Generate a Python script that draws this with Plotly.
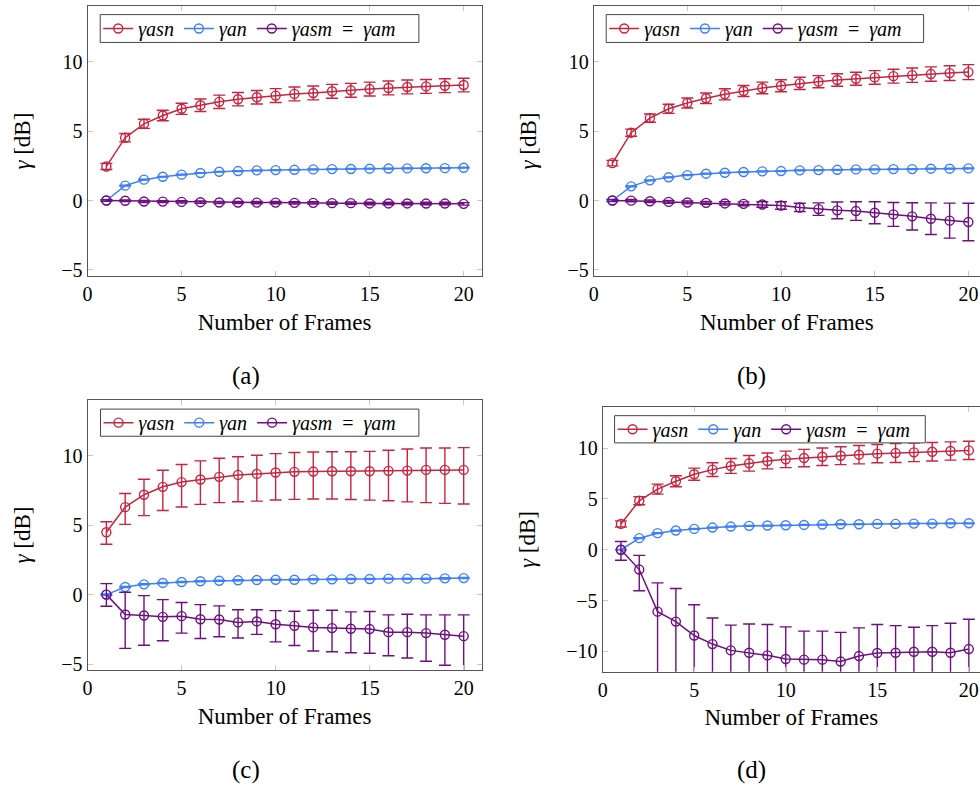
import plotly.graph_objects as go

frames = list(range(1, 21))

# Panel (a)
a_asn = [2.45, 4.52, 5.52, 6.12, 6.60, 6.86, 7.10, 7.29, 7.43, 7.55, 7.67, 7.74, 7.86, 7.93, 8.02, 8.10, 8.17, 8.21, 8.26, 8.31]
a_asn_err = [0.22, 0.30, 0.33, 0.38, 0.40, 0.45, 0.48, 0.48, 0.49, 0.50, 0.50, 0.50, 0.50, 0.50, 0.50, 0.50, 0.50, 0.50, 0.50, 0.49]
a_an = [0.0, 1.07, 1.50, 1.71, 1.86, 1.98, 2.07, 2.12, 2.17, 2.19, 2.21, 2.24, 2.26, 2.27, 2.29, 2.30, 2.31, 2.32, 2.33, 2.36]
a_an_err = [0.03] * 20
a_am = [0.0, -0.02, -0.07, -0.08, -0.10, -0.12, -0.14, -0.14, -0.15, -0.15, -0.17, -0.17, -0.19, -0.19, -0.21, -0.21, -0.21, -0.22, -0.22, -0.24]
a_am_err = [0.06, 0.06, 0.07, 0.07, 0.08, 0.08, 0.08, 0.08, 0.08, 0.08, 0.08, 0.08, 0.08, 0.08, 0.09, 0.09, 0.09, 0.09, 0.09, 0.09]

# Panel (b)
b_asn = [2.69, 4.88, 5.93, 6.60, 7.02, 7.36, 7.64, 7.88, 8.10, 8.26, 8.43, 8.55, 8.67, 8.76, 8.86, 8.95, 9.02, 9.10, 9.17, 9.24]
b_asn_err = [0.20, 0.26, 0.30, 0.33, 0.36, 0.38, 0.40, 0.40, 0.42, 0.43, 0.44, 0.44, 0.45, 0.47, 0.49, 0.50, 0.52, 0.52, 0.53, 0.54]
b_an = [0.0, 1.02, 1.45, 1.67, 1.83, 1.93, 2.00, 2.05, 2.10, 2.12, 2.17, 2.19, 2.21, 2.24, 2.24, 2.26, 2.26, 2.29, 2.29, 2.31]
b_an_err = [0.03] * 20
b_am = [0.0, -0.01, -0.05, -0.10, -0.14, -0.17, -0.21, -0.24, -0.29, -0.36, -0.50, -0.62, -0.71, -0.76, -0.88, -1.00, -1.14, -1.31, -1.45, -1.55]
b_am_err = [0.08, 0.08, 0.09, 0.10, 0.10, 0.10, 0.12, 0.14, 0.20, 0.27, 0.30, 0.45, 0.60, 0.67, 0.79, 0.86, 0.98, 1.14, 1.26, 1.35]

# Panel (c)
c_asn = [4.49, 6.30, 7.19, 7.76, 8.10, 8.29, 8.48, 8.62, 8.69, 8.79, 8.84, 8.86, 8.88, 8.88, 8.88, 8.91, 8.93, 8.98, 8.98, 8.98]
c_asn_up = [0.76, 0.98, 1.12, 1.19, 1.27, 1.34, 1.34, 1.31, 1.34, 1.36, 1.39, 1.41, 1.41, 1.41, 1.43, 1.48, 1.55, 1.58, 1.58, 1.60]
c_asn_dn = [0.86, 1.24, 1.50, 1.70, 1.79, 1.79, 1.86, 1.93, 1.96, 1.98, 1.98, 1.98, 2.00, 2.03, 2.08, 2.15, 2.25, 2.36, 2.41, 2.46]
c_an = [0.0, 0.55, 0.74, 0.84, 0.91, 0.96, 1.00, 1.03, 1.05, 1.07, 1.07, 1.10, 1.10, 1.12, 1.12, 1.15, 1.15, 1.15, 1.17, 1.19]
c_an_err = [0.04] * 20
c_am = [0.0, -1.43, -1.50, -1.60, -1.55, -1.77, -1.79, -2.00, -1.93, -2.13, -2.25, -2.36, -2.41, -2.46, -2.48, -2.70, -2.70, -2.77, -2.89, -2.99]
c_am_up = [0.79, 1.60, 1.43, 1.24, 0.98, 1.05, 0.98, 0.91, 0.84, 0.98, 1.05, 1.24, 1.29, 1.22, 1.27, 1.24, 1.29, 1.31, 1.43, 1.53]
c_am_dn = [0.84, 2.44, 2.15, 1.72, 1.22, 1.39, 1.24, 1.12, 0.93, 1.27, 1.41, 1.70, 1.70, 1.72, 1.74, 1.70, 1.86, 2.03, 2.20, 2.80]

# Panel (d)
d_asn = [2.54, 4.82, 5.96, 6.74, 7.43, 7.88, 8.24, 8.50, 8.73, 8.89, 9.02, 9.15, 9.25, 9.35, 9.45, 9.51, 9.58, 9.64, 9.71, 9.77]
d_asn_err = [0.30, 0.40, 0.49, 0.54, 0.60, 0.67, 0.73, 0.77, 0.78, 0.81, 0.85, 0.86, 0.88, 0.90, 0.90, 0.93, 0.91, 0.91, 0.90, 0.90]
d_an = [0.0, 1.14, 1.63, 1.89, 2.05, 2.18, 2.28, 2.35, 2.38, 2.41, 2.44, 2.48, 2.51, 2.51, 2.54, 2.54, 2.57, 2.57, 2.60, 2.60]
d_an_err = [0.04] * 20
d_am = [0.0, -1.95, -6.09, -7.07, -8.44, -9.28, -9.90, -10.13, -10.39, -10.75, -10.81, -10.81, -11.00, -10.46, -10.16, -10.13, -10.03, -10.03, -10.13, -9.77]
d_am_up = [0.81, 1.40, 2.83, 3.26, 3.03, 2.57, 2.48, 2.83, 3.03, 3.16, 2.80, 2.80, 2.87, 2.77, 2.80, 2.67, 2.41, 2.57, 2.90, 2.93]
d_am_dn = [1.04, 2.08, 6.50, 6.00, 5.50, 5.00, 4.50, 4.50, 4.50, 4.50, 4.00, 4.00, 4.00, 4.00, 4.00, 4.00, 4.00, 4.00, 4.00, 4.00]

names = ["<i>γasn</i>", "<i>γan</i>", "<i>γasm</i>&nbsp; =&nbsp; <i>γam</i>"]
colors = ["#C8243F", "#3D7EFF", "#6E0F80"]
captions = ["(a)", "(b)", "(c)", "(d)"]

panels = [
    [(a_asn, a_asn_err, a_asn_err), (a_an, a_an_err, a_an_err), (a_am, a_am_err, a_am_err)],
    [(b_asn, b_asn_err, b_asn_err), (b_an, b_an_err, b_an_err), (b_am, b_am_err, b_am_err)],
    [(c_asn, c_asn_up, c_asn_dn), (c_an, c_an_err, c_an_err), (c_am, c_am_up, c_am_dn)],
    [(d_asn, d_asn_err, d_asn_err), (d_an, d_an_err, d_an_err), (d_am, d_am_up, d_am_dn)],
]

W, H = 980, 792
FONT = "Liberation Serif"

# pixel geometry of each axes box and its legend frame (left, right, top, bottom)
geom = [
    dict(l=83, r=479, t=6, b=278, xr=[0, 20.95], yr=[-5.45, 14], yt=[-5, 0, 5, 10],
         cap=(242, 378), leg=(95.7, 416, 14.7, 42.7), cut=False),
    dict(l=591.7, r=980, t=6, b=278, xr=[0, 20.62], yr=[-5.45, 14], yt=[-5, 0, 5, 10],
         cap=(750, 378), leg=(604.3, 923.3, 14.7, 42.7), cut=True),
    dict(l=83, r=479, t=402.7, b=674.3, xr=[0, 20.95], yr=[-5.43, 14], yt=[-5, 0, 5, 10],
         cap=(242, 775), leg=(96, 416, 411.7, 439), cut=False),
    dict(l=600.7, r=980, t=410, b=676, xr=[0, 20.61], yr=[-12, 14], yt=[-10, -5, 0, 5, 10],
         cap=(750, 775), leg=(612.7, 925, 418.3, 445.7), cut=True),
]

fig = go.Figure()
layout = dict(
    width=W, height=H, autosize=False,
    margin=dict(l=0, r=0, t=0, b=0),
    paper_bgcolor="white", plot_bgcolor="white",
    font=dict(family=FONT, size=20, color="black"),
    annotations=[], shapes=[],
)

for i, (series, g) in enumerate(zip(panels, geom)):
    k = "" if i == 0 else str(i + 1)
    leg = "legend" if i == 0 else "legend" + str(i + 1)
    for j, (vals, up, dn) in enumerate(series):
        fig.add_trace(go.Scatter(
            x=frames, y=vals, name=names[j], mode="lines+markers",
            xaxis="x" + k, yaxis="y" + k, legend=leg,
            line=dict(color=colors[j], width=1.5),
            marker=dict(symbol="circle-open", size=9, color=colors[j], line=dict(width=1.4)),
            error_y=dict(type="data", symmetric=False, array=up, arrayminus=dn,
                         color=colors[j], thickness=1.4, width=6),
        ))
    layout["xaxis" + k] = dict(
        domain=[g["l"] / W, g["r"] / W], range=g["xr"], anchor="y" + k,
        tickvals=[0, 5, 10, 15, 20], ticks="inside", ticklen=5, tickcolor="#c8c8c8",
        showline=True, linecolor="#555555", linewidth=1, mirror="allticks",
        showgrid=False, zeroline=False, tickfont=dict(size=20),
        title=dict(text="Number of Frames", font=dict(size=23), standoff=9),
    )
    layout["yaxis" + k] = dict(
        domain=[1 - g["b"] / H, 1 - g["t"] / H], range=g["yr"], anchor="x" + k,
        tickvals=g["yt"], ticks="inside", ticklen=5, tickcolor="#c8c8c8",
        showline=True, linecolor="#555555", linewidth=1,
        mirror=False if g["cut"] else "allticks",
        showgrid=False, zeroline=False, tickfont=dict(size=20),
        title=dict(text="<i>γ</i> [dB]", font=dict(size=23), standoff=24),
    )
    lx0, lx1, ly0, ly1 = g["leg"]
    layout["shapes"].append(dict(
        type="rect", xref="paper", yref="paper", layer="above",
        x0=lx0 / W, x1=lx1 / W, y0=1 - ly1 / H, y1=1 - ly0 / H,
        line=dict(color="#444444", width=1), fillcolor="white",
    ))
    layout[leg] = dict(
        x=(lx0 - 2) / W, y=1 - ((ly0 + ly1) / 2) / H, xanchor="left", yanchor="middle",
        orientation="h", borderwidth=0, bgcolor="rgba(0,0,0,0)",
        font=dict(size=20), itemwidth=30, tracegroupgap=0,
    )
    layout["annotations"].append(dict(
        text=captions[i], x=g["cap"][0] / W, y=1 - g["cap"][1] / H,
        xref="paper", yref="paper", showarrow=False, xanchor="center", yanchor="middle",
        font=dict(size=25, family=FONT),
    ))

fig.update_layout(**layout)
fig.write_html("out.html", post_script="document.body.style.margin='0';",
               config={"displayModeBar": False})
